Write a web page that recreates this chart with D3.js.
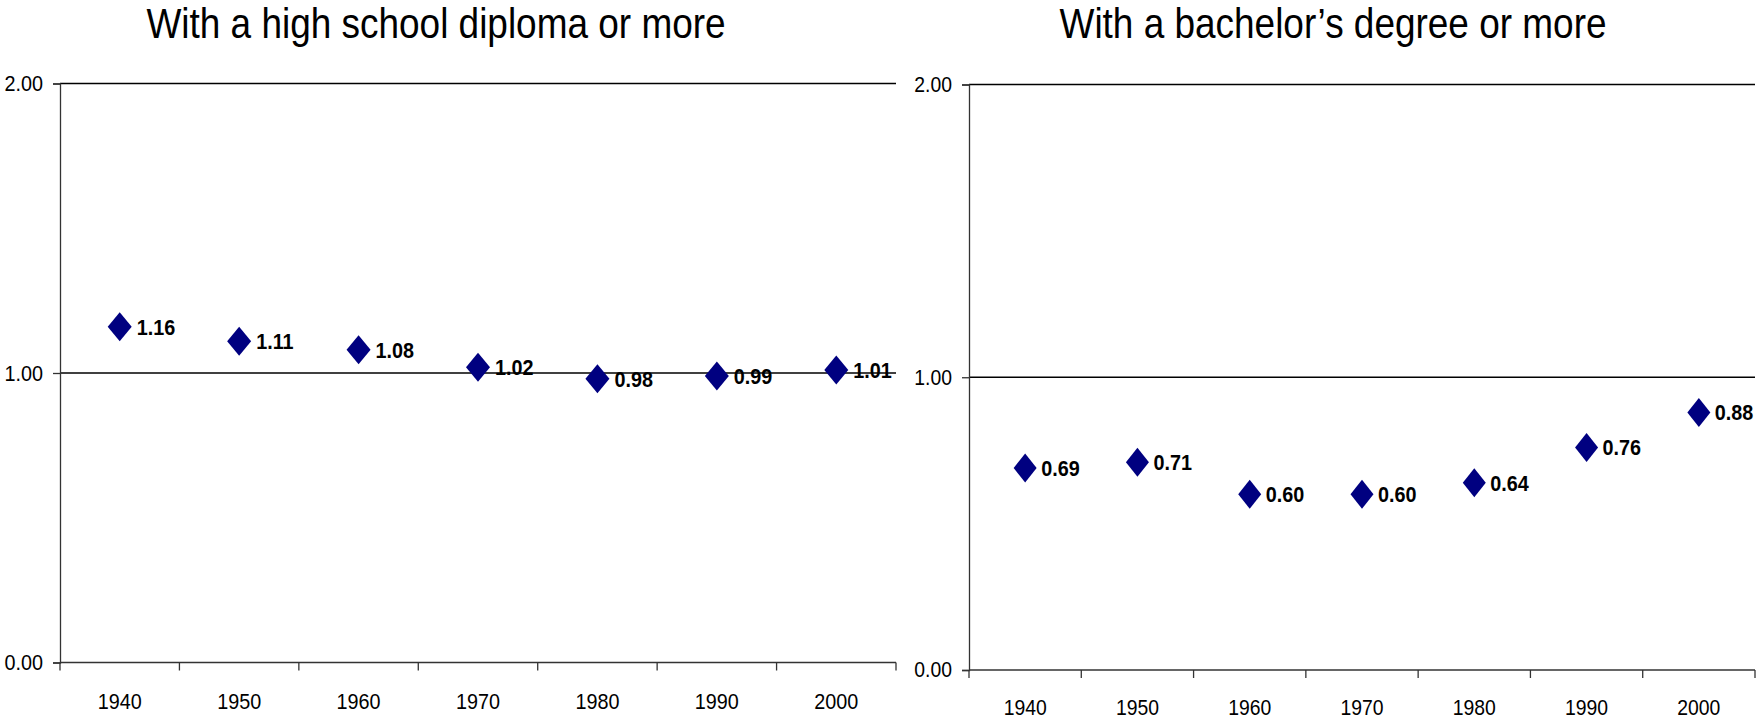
<!DOCTYPE html>
<html>
<head>
<meta charset="utf-8">
<script src="https://cdn.jsdelivr.net/npm/d3@7"></script>
<style>
  html, body { margin: 0; padding: 0; background: #fff; }
  svg { display: block; font-family: "Liberation Sans", Arial, sans-serif; }
</style>
</head>
<body>
<svg id="chart" width="1758" height="721"></svg>
<script>
// Census decades shown on both panels
const years = ["1940", "1950", "1960", "1970", "1980", "1990", "2000"];

// Ratio values for each attainment level
const highSchool = [1.16, 1.11, 1.08, 1.02, 0.98, 0.99, 1.01];
const bachelors = [0.69, 0.71, 0.60, 0.60, 0.64, 0.76, 0.88];

// Value axis ticks
const yTicks = [0, 1, 2];

const titles = ["With a high school diploma or more", "With a bachelor\u2019s degree or more"];

const svg = d3.select("#chart");
const fmt = d3.format(".2f");

// Horizontal squeeze that gives all text a condensed look
const SQ = 0.9;

// Panel geometry
const panels = [
  { title: titles[0], values: highSchool, x0: 60, x1: 896, y0: 83.5, y1: 662.5,
    titleX: 436, titleY: 38, axisFont: 22, tickLabelY: 46, mw: 24, mh: 29, labelDx: 17 },
  { title: titles[1], values: bachelors, x0: 969, x1: 1755, y0: 84.5, y1: 670,
    titleX: 1333, titleY: 38, axisFont: 21.5, tickLabelY: 45, mw: 23, mh: 29, labelDx: 16 }
];

panels.forEach(p => {
  const g = svg.append("g");

  const x = d3.scaleBand().domain(years).range([p.x0, p.x1]).padding(0);
  const y = d3.scaleLinear().domain([0, 2]).range([p.y1, p.y0]);

  // Title
  g.append("g")
    .attr("transform", `translate(${p.titleX},${p.titleY}) scale(0.88,1)`)
    .append("text")
    .attr("text-anchor", "middle")
    .attr("font-size", 42)
    .attr("fill", "#000")
    .text(p.title);

  // Horizontal gridlines (above zero)
  g.selectAll("line.grid")
    .data(yTicks.filter(d => d > 0))
    .join("line")
    .attr("class", "grid")
    .attr("x1", p.x0).attr("x2", p.x1)
    .attr("y1", d => y(d)).attr("y2", d => y(d))
    .attr("stroke", "#000")
    .attr("stroke-width", 1.3);

  // Value axis
  const yAxis = d3.axisLeft(y)
    .tickValues(yTicks)
    .tickFormat(fmt)
    .tickSize(7)
    .tickPadding(10);
  const ya = g.append("g")
    .attr("transform", `translate(${p.x0},0)`)
    .call(yAxis);
  ya.select(".domain").attr("stroke", "#333").attr("stroke-width", 1.3);
  ya.selectAll(".tick line").attr("stroke", "#333").attr("stroke-width", 1.3);
  ya.selectAll(".tick text")
    .attr("x", 0)
    .attr("transform", `translate(-17,0) scale(${SQ},1)`)
    .attr("font-size", p.axisFont)
    .attr("font-family", "Liberation Sans, Arial, sans-serif")
    .attr("fill", "#000");

  // Category axis: baseline with ticks at band boundaries
  const boundaries = years.map(d => x(d)).concat([x.range()[1]]);
  g.append("line")
    .attr("x1", p.x0).attr("x2", p.x1)
    .attr("y1", y(0)).attr("y2", y(0))
    .attr("stroke", "#333")
    .attr("stroke-width", 1.5);
  g.selectAll("line.xtick")
    .data(boundaries)
    .join("line")
    .attr("class", "xtick")
    .attr("x1", d => d).attr("x2", d => d)
    .attr("y1", y(0)).attr("y2", y(0) + 8)
    .attr("stroke", "#333")
    .attr("stroke-width", 1.3);

  const xAxis = d3.axisBottom(x).tickSize(0).tickPadding(0);
  const xa = g.append("g")
    .attr("transform", `translate(0,${y(0)})`)
    .call(xAxis);
  xa.select(".domain").remove();
  xa.selectAll(".tick text")
    .attr("dy", null)
    .attr("y", 0)
    .attr("transform", `translate(0,${p.tickLabelY}) scale(${SQ},1)`)
    .attr("font-size", p.axisFont)
    .attr("font-family", "Liberation Sans, Arial, sans-serif")
    .attr("fill", "#000");

  // Diamond markers
  const cx = d => x(d) + x.bandwidth() / 2;
  const diamond = (w, h) => `M0,${-h / 2}L${w / 2},0L0,${h / 2}L${-w / 2},0Z`;
  const pts = years.map((yr, i) => ({ yr, v: p.values[i] }));

  g.selectAll("path.marker")
    .data(pts)
    .join("path")
    .attr("class", "marker")
    .attr("d", diamond(p.mw, p.mh))
    .attr("transform", d => `translate(${cx(d.yr)},${y(d.v)})`)
    .attr("fill", "#000080");

  // Value labels
  g.selectAll("text.vlabel")
    .data(pts)
    .join("text")
    .attr("class", "vlabel")
    .attr("transform", d => `translate(${cx(d.yr) + p.labelDx},${y(d.v)}) scale(${SQ},1)`)
    .attr("dy", "0.36em")
    .attr("font-size", 22)
    .attr("font-weight", "bold")
    .attr("fill", "#000")
    .text(d => fmt(d.v));
});
</script>
</body>
</html>
